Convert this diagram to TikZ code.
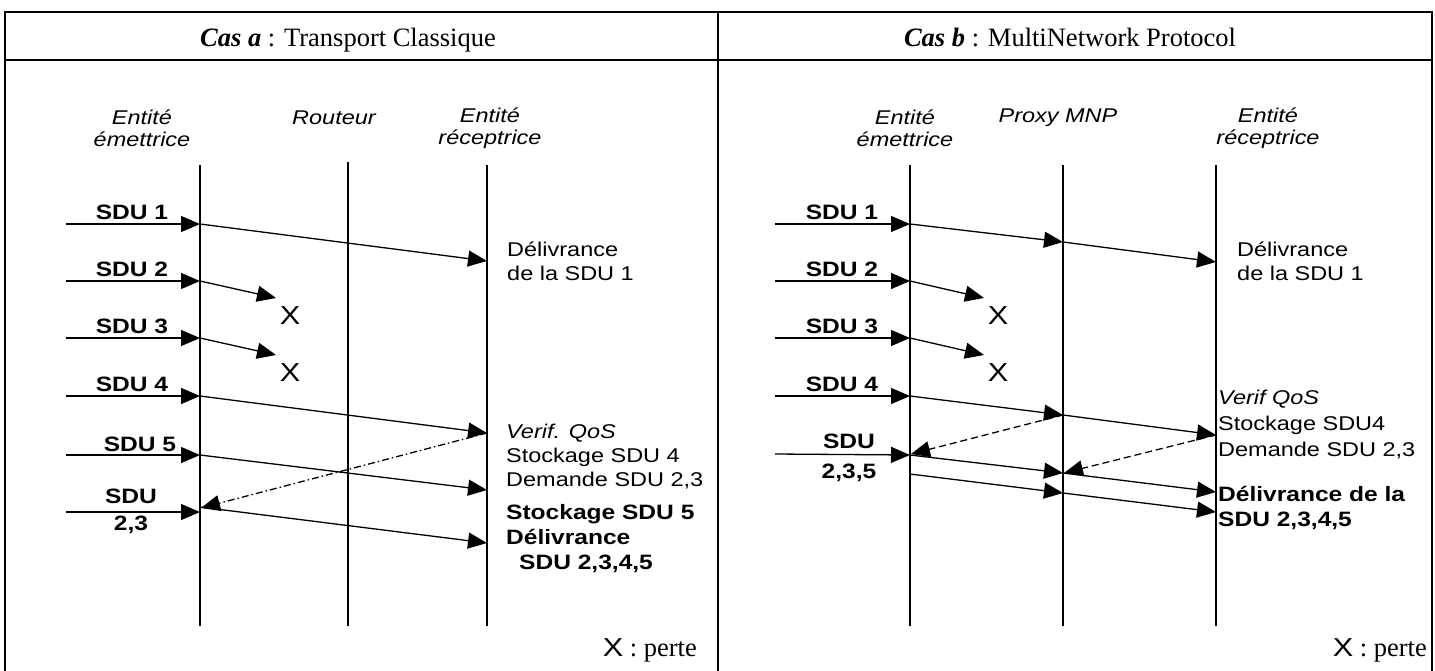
\documentclass[tikz,border=0pt]{standalone}
\usepackage{fontspec}
\setmainfont{Liberation Serif}
\newfontfamily\arialfont{Liberation Sans}[FakeStretch=1.18]
\usetikzlibrary{arrows.meta}

\tikzset{
  every node/.style={inner sep=0pt},
  frame/.style={line width=1.6pt},
  lifeline/.style={line width=1.3pt},
  msg/.style={line width=1.3pt, -{Triangle[length=19pt,width=16pt]}},
  req/.style={msg, dash pattern=on 7pt off 4pt},
  reqdot/.style={msg, dash pattern=on 7pt off 3pt on 1.5pt off 3pt},
  header/.style={font=\fontsize{26.5}{30}\selectfont},
  entity/.style={font=\arialfont\itshape\fontsize{19.9}{22}\selectfont, align=center},
  sdu/.style={font=\arialfont\bfseries\fontsize{20.8}{25}\selectfont},
  note/.style={font=\arialfont\fontsize{19.9}{24}\selectfont, align=left, anchor=west},
  notebf/.style={note, font=\arialfont\bfseries\fontsize{20.8}{25}\selectfont},
  lost/.style={font=\arialfont\fontsize{26}{26}\selectfont},
}

\begin{document}
\begin{tikzpicture}[x=1pt, y=-1pt]
  \useasboundingbox (0,0) rectangle (1435,670);
  % frame and headers
  \draw[frame] (5,12) rectangle (1432,673);
  \draw[frame] (5,60) -- (1432,60);
  \draw[frame] (718,12) -- (718,673);
  \node[header, anchor=base] (headA) at (348,46) {\textbf{\textit{Cas a}} : Transport Classique};
  \node[header, anchor=base] (headB) at (1070,46) {\textbf{\textit{Cas b}} : MultiNetwork Protocol};

  % ---- Cas a ----
  \node[entity] (a-em) at (142,128) {Entité\\émettrice};
  \node[entity] (a-rt) at (334,118) {Routeur};
  \node[entity] (a-re) at (490,128) {Entité\\réceptrice};
  \coordinate (a-e0) at (200,165); \coordinate (a-e9) at (200,626);
  \coordinate (a-r0) at (348,162); \coordinate (a-r9) at (348,626);
  \coordinate (a-d0) at (487,165); \coordinate (a-d9) at (487,626);
  \draw[lifeline] (a-e0) -- (a-e9);
  \draw[lifeline] (a-r0) -- (a-r9);
  \draw[lifeline] (a-d0) -- (a-d9);

  % SDU 1 delivered
  \coordinate (a-in1) at (66,224); \coordinate (a-e1) at (200,224); \coordinate (a-d1) at (487,261);
  \draw[msg] (a-in1) -- (a-e1);
  \draw[msg] (a-e1) -- (a-d1);
  \node[sdu, anchor=base] (a-sdu1) at (132,219) {SDU 1};
  \node[note] (a-deliv) at (507,261) {Délivrance\\de la SDU 1};
  % SDU 2 and 3 lost
  \coordinate (a-in2) at (66,281); \coordinate (a-e2) at (200,281); \coordinate (a-x2) at (276,298);
  \draw[msg] (a-in2) -- (a-e2);
  \draw[msg] (a-e2) -- (a-x2);
  \node[sdu, anchor=base] (a-sdu2) at (132,276) {SDU 2};
  \node[lost] (a-lost2) at (290,316) {X};
  \coordinate (a-in3) at (66,338); \coordinate (a-e3) at (200,338); \coordinate (a-x3) at (276,355);
  \draw[msg] (a-in3) -- (a-e3);
  \draw[msg] (a-e3) -- (a-x3);
  \node[sdu, anchor=base] (a-sdu3) at (132,333) {SDU 3};
  \node[lost] (a-lost3) at (290,373) {X};
  % SDU 4 and 5, then request
  \coordinate (a-in4) at (66,396); \coordinate (a-e4) at (200,396); \coordinate (a-d4) at (487,433);
  \draw[msg] (a-in4) -- (a-e4);
  \draw[msg] (a-e4) -- (a-d4);
  \node[sdu, anchor=base] (a-sdu4) at (132,391) {SDU 4};
  \coordinate (a-in5) at (66,455); \coordinate (a-e5) at (200,455); \coordinate (a-d5) at (487,490);
  \draw[msg] (a-in5) -- (a-e5);
  \draw[msg] (a-e5) -- (a-d5);
  \node[sdu, anchor=base] (a-sdu5) at (140,451) {SDU 5};
  \coordinate (a-back) at (201,508);
  \draw[reqdot] (a-d4) -- (a-back);
  \node[note] (a-verif) at (506,457) {\textit{Verif. QoS}\\Stockage SDU 4\\Demande SDU 2,3};
  % retransmission of SDU 2,3
  \coordinate (a-in6) at (66,512); \coordinate (a-e6) at (200,512);
  \coordinate (a-e7) at (200,507); \coordinate (a-d7) at (487,543);
  \draw[msg] (a-in6) -- (a-e6);
  \draw[msg] (a-e7) -- (a-d7);
  \node[sdu, align=center] (a-sdu6) at (131,511) {SDU\\[2pt]2,3};
  \node[notebf] (a-final) at (506,539) {Stockage SDU 5\\Délivrance\\\hspace*{13pt}SDU 2,3,4,5};
  \node[header, anchor=east] (a-legend) at (697,650) {{\arialfont\fontsize{26}{26}\selectfont X} : perte};

  % ---- Cas b ----
  \node[entity] (b-em) at (905,128) {Entité\\émettrice};
  \node[entity] (b-px) at (1058,118) {Proxy MNP};
  \node[entity] (b-re) at (1268,128) {Entité\\réceptrice};
  \coordinate (b-e0) at (910,165); \coordinate (b-e9) at (910,626);
  \coordinate (b-p0) at (1063,165); \coordinate (b-p9) at (1063,626);
  \coordinate (b-d0) at (1216,165); \coordinate (b-d9) at (1216,626);
  \draw[lifeline] (b-e0) -- (b-e9);
  \draw[lifeline] (b-p0) -- (b-p9);
  \draw[lifeline] (b-d0) -- (b-d9);

  % SDU 1 through the proxy
  \coordinate (b-in1) at (775,224); \coordinate (b-e1) at (910,224);
  \coordinate (b-p1) at (1063,242); \coordinate (b-d1) at (1216,262);
  \draw[msg] (b-in1) -- (b-e1);
  \draw[msg] (b-e1) -- (b-p1);
  \draw[msg] (b-p1) -- (b-d1);
  \node[sdu, anchor=base] (b-sdu1) at (842,219) {SDU 1};
  \node[note] (b-deliv) at (1237,261) {Délivrance\\de la SDU 1};
  % SDU 2 and 3 lost
  \coordinate (b-in2) at (775,281); \coordinate (b-e2) at (910,281); \coordinate (b-x2) at (984,298);
  \draw[msg] (b-in2) -- (b-e2);
  \draw[msg] (b-e2) -- (b-x2);
  \node[sdu, anchor=base] (b-sdu2) at (842,276) {SDU 2};
  \node[lost] (b-lost2) at (998,316) {X};
  \coordinate (b-in3) at (775,338); \coordinate (b-e3) at (910,338); \coordinate (b-x3) at (984,355);
  \draw[msg] (b-in3) -- (b-e3);
  \draw[msg] (b-e3) -- (b-x3);
  \node[sdu, anchor=base] (b-sdu3) at (842,333) {SDU 3};
  \node[lost] (b-lost3) at (998,373) {X};
  % SDU 4, requests from proxy and receiver
  \coordinate (b-in4) at (775,396); \coordinate (b-e4) at (910,396);
  \coordinate (b-p4) at (1063,415); \coordinate (b-d4) at (1216,435);
  \draw[msg] (b-in4) -- (b-e4);
  \draw[msg] (b-e4) -- (b-p4);
  \draw[msg] (b-p4) -- (b-d4);
  \node[sdu, anchor=base] (b-sdu4) at (842,391) {SDU 4};
  \coordinate (b-eback) at (911,454); \coordinate (b-pback) at (1064,473);
  \draw[req] (b-p4) -- (b-eback);
  \draw[req] (b-d4) -- (b-pback);
  \node[note] (b-verif) at (1218,425) {\textit{Verif QoS}\\[2pt]Stockage SDU4\\[2pt]Demande SDU 2,3};
  % retransmission of SDU 2,3,5
  \coordinate (b-in5) at (775,454); \coordinate (b-e5) at (910,455);
  \coordinate (b-p5) at (1063,473); \coordinate (b-d5) at (1216,492);
  \coordinate (b-e6) at (910,474); \coordinate (b-p6) at (1063,493); \coordinate (b-d6) at (1216,512);
  \draw[msg] (b-in5) -- (b-e5);
  \draw[msg] (b-e5) -- (b-p5);
  \draw[msg] (b-p5) -- (b-d5);
  \draw[msg] (b-e6) -- (b-p6);
  \draw[msg] (b-p6) -- (b-d6);
  \node[sdu, align=center] (b-sdu5) at (849,458) {SDU\\[5pt]2,3,5};
  \node[notebf] (b-final) at (1218,508) {Délivrance de la\\SDU 2,3,4,5};
  \node[header, anchor=east] (b-legend) at (1427,650) {{\arialfont\fontsize{26}{26}\selectfont X} : perte};
\end{tikzpicture}
\end{document}
